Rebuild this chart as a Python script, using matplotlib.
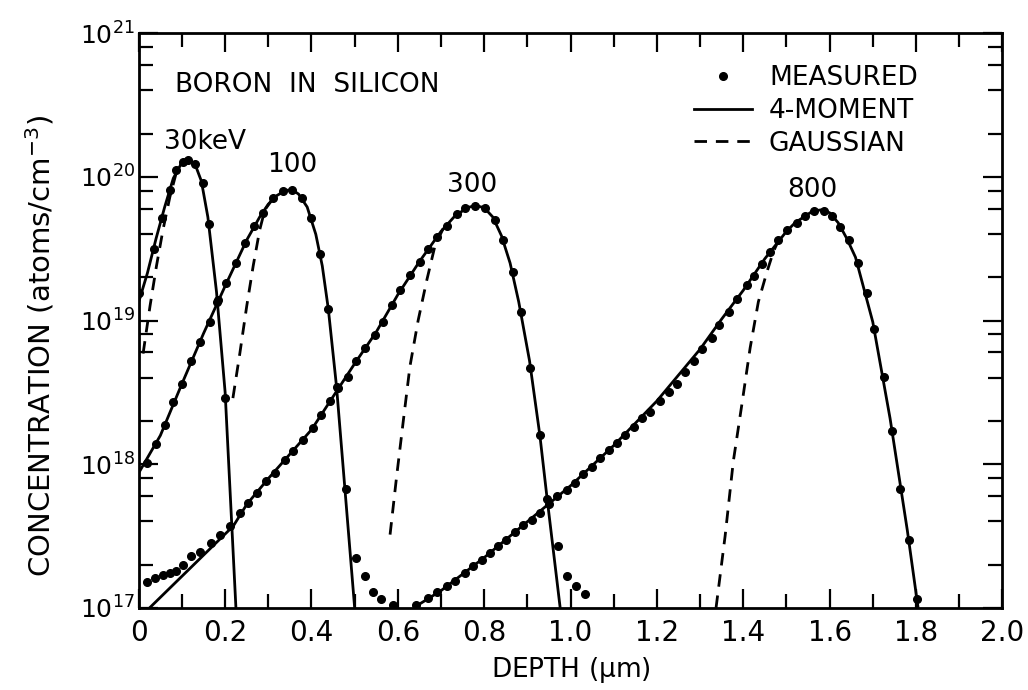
import numpy as np
import matplotlib
matplotlib.use("Agg")
import matplotlib.pyplot as plt
from matplotlib.ticker import FixedLocator, FixedFormatter, NullFormatter
from matplotlib.lines import Line2D

plt.rcParams['font.family'] = ['DejaVu Sans']
plt.rcParams['mathtext.default'] = 'regular'

# ---------------- data (depth in um, concentration as log10 of atoms/cm^3) ----------------
# 30 keV
meas30_x = [0.0, 0.035, 0.053, 0.072, 0.087, 0.103, 0.114, 0.13, 0.149, 0.163, 0.181, 0.2]
meas30_dec = [19.19, 19.50, 19.71, 19.91, 20.05, 20.10, 20.12, 20.09, 19.96, 19.67, 19.13, 18.46]
mom30_x = [0.0, 0.02, 0.04, 0.06, 0.08, 0.1, 0.115, 0.13, 0.145, 0.16, 0.18, 0.2, 0.225]
mom30_dec = [19.13, 19.33, 19.57, 19.79, 19.99, 20.10, 20.12, 20.09, 19.97, 19.72, 19.20, 18.50, 17.0]
gau30_x = [0.01, 0.026, 0.041, 0.056, 0.072, 0.087, 0.1]
gau30_dec = [18.77, 19.10, 19.38, 19.63, 19.86, 20.03, 20.10]

# 100 keV
meas100_x = [0.018, 0.041, 0.06, 0.08, 0.101, 0.122, 0.141, 0.165, 0.184, 0.203, 0.226,
             0.246, 0.267, 0.288, 0.311, 0.334, 0.354, 0.377, 0.40, 0.419, 0.439, 0.458,
             0.481, 0.504, 0.524, 0.543, 0.562, 0.588]
meas100_dec = [18.01, 18.14, 18.27, 18.43, 18.56, 18.72, 18.85, 18.99, 19.14, 19.26, 19.40,
               19.54, 19.66, 19.75, 19.85, 19.90, 19.91, 19.85, 19.71, 19.46, 19.08, 18.54,
               17.83, 17.35, 17.22, 17.11, 17.06, 17.02]
mom100_x = [0.0, 0.05, 0.1, 0.15, 0.2, 0.25, 0.28, 0.30, 0.32, 0.34, 0.355, 0.37, 0.39,
            0.41, 0.425, 0.439, 0.458, 0.50]
mom100_dec = [17.94, 18.20, 18.56, 18.91, 19.24, 19.56, 19.72, 19.81, 19.87, 19.905, 19.91,
              19.88, 19.79, 19.60, 19.38, 19.08, 18.54, 17.0]
gau100_x = [0.218, 0.234, 0.25, 0.265, 0.28, 0.292, 0.311, 0.334]
gau100_dec = [18.46, 18.77, 19.10, 19.38, 19.63, 19.77, 19.85, 19.90]

# 300 keV
meas300_x = [0.018, 0.037, 0.056, 0.072, 0.087, 0.103, 0.122, 0.141, 0.168, 0.188, 0.211,
             0.234, 0.253, 0.273, 0.294, 0.315, 0.338, 0.358, 0.381, 0.404, 0.423, 0.443,
             0.462, 0.485, 0.504, 0.524, 0.547, 0.566, 0.586, 0.605, 0.628, 0.651, 0.670,
             0.69, 0.713, 0.736, 0.755, 0.779, 0.802, 0.825, 0.844, 0.866, 0.885, 0.905,
             0.929, 0.945, 0.970, 0.991, 1.013, 1.034]
meas300_dec = [17.18, 17.21, 17.23, 17.24, 17.26, 17.30, 17.36, 17.39, 17.45, 17.51, 17.57,
               17.66, 17.73, 17.80, 17.88, 17.94, 18.03, 18.09, 18.17, 18.25, 18.34, 18.44,
               18.53, 18.61, 18.72, 18.81, 18.90, 18.99, 19.11, 19.21, 19.32, 19.41, 19.50,
               19.58, 19.66, 19.74, 19.785, 19.80, 19.78, 19.70, 19.56, 19.34, 19.06, 18.67,
               18.20, 17.76, 17.43, 17.22, 17.15, 17.10]
mom300_x = [0.025, 0.219, 0.25, 0.3, 0.35, 0.4, 0.45, 0.5, 0.55, 0.6, 0.65, 0.7, 0.73,
            0.76, 0.78, 0.80, 0.82, 0.84, 0.86, 0.88, 0.905, 0.929, 0.945, 0.976]
mom300_dec = [17.0, 17.57, 17.72, 17.90, 18.07, 18.24, 18.47, 18.70, 18.92, 19.18, 19.41,
              19.62, 19.72, 19.785, 19.80, 19.785, 19.72, 19.59, 19.40, 19.13, 18.72, 18.20,
              17.78, 17.0]
gau300_x = [0.582, 0.597, 0.613, 0.628, 0.647, 0.667, 0.686, 0.705]
gau300_dec = [17.51, 17.91, 18.31, 18.68, 19.0, 19.28, 19.52, 19.64]

# 800 keV
meas800_x = [0.643, 0.670, 0.69, 0.713, 0.732, 0.755, 0.775, 0.794, 0.813, 0.833, 0.85,
             0.871, 0.891, 0.91, 0.929, 0.949, 0.968, 0.991, 1.01, 1.03, 1.049, 1.068,
             1.088, 1.107, 1.126, 1.146, 1.165, 1.184, 1.207, 1.227, 1.246, 1.265, 1.285,
             1.304, 1.327, 1.343, 1.366, 1.385, 1.408, 1.424, 1.443, 1.462, 1.481, 1.501,
             1.524, 1.543, 1.563, 1.586, 1.605, 1.624, 1.644, 1.665, 1.686, 1.703, 1.725,
             1.744, 1.762, 1.783, 1.802]
meas800_dec = [17.02, 17.07, 17.11, 17.15, 17.19, 17.24, 17.29, 17.33, 17.38, 17.43, 17.47,
               17.53, 17.58, 17.61, 17.66, 17.72, 17.78, 17.82, 17.87, 17.93, 17.98, 18.04,
               18.10, 18.15, 18.20, 18.26, 18.32, 18.36, 18.44, 18.50, 18.56, 18.64, 18.72,
               18.80, 18.88, 18.97, 19.06, 19.15, 19.25, 19.31, 19.39, 19.48, 19.56, 19.63,
               19.68, 19.73, 19.76, 19.76, 19.73, 19.65, 19.56, 19.40, 19.19, 18.94, 18.61,
               18.23, 17.83, 17.47, 17.06]
mom800_x = [0.636, 0.7, 0.8, 0.9, 1.0, 1.1, 1.2, 1.3, 1.35, 1.4, 1.45, 1.5, 1.52, 1.54,
            1.56, 1.58, 1.60, 1.62, 1.64, 1.66, 1.70, 1.74, 1.78, 1.805]
mom800_dec = [17.0, 17.12, 17.35, 17.60, 17.85, 18.13, 18.44, 18.80, 19.01, 19.21, 19.43,
              19.62, 19.68, 19.72, 19.76, 19.77, 19.75, 19.68, 19.57, 19.44, 18.99, 18.32,
              17.54, 17.0]
gau800_x = [1.337, 1.358, 1.377, 1.397, 1.416, 1.435, 1.455, 1.47, 1.485]
gau800_dec = [17.0, 17.50, 18.02, 18.42, 18.81, 19.13, 19.34, 19.48, 19.58]

energy_labels = ["30keV", "100", "300", "800"]
legend_labels = ["MEASURED", "4-MOMENT", "GAUSSIAN"]
x_ticks = [0, 0.2, 0.4, 0.6, 0.8, 1.0, 1.2, 1.4, 1.6, 1.8, 2.0]
x_tick_labels = ["0", "0.2", "0.4", "0.6", "0.8", "1.0", "1.2", "1.4", "1.6", "1.8", "2.0"]
y_ticks = [1e17, 1e18, 1e19, 1e20, 1e21]
y_tick_labels = ["$10^{17}$", "$10^{18}$", "$10^{19}$", "$10^{20}$", "$10^{21}$"]

# ---------------- figure ----------------
fig = plt.figure(figsize=(10.28, 6.9), dpi=100)
ax = fig.add_axes([0.135, 0.119, 0.840, 0.833])

LW = 2.0
DASH = (0, (4.5, 3.2))
def dec(a):
    return 10 ** np.asarray(a, dtype=float)

for mx, my in [(mom30_x, mom30_dec), (mom100_x, mom100_dec), (mom300_x, mom300_dec), (mom800_x, mom800_dec)]:
    ax.plot(mx, dec(my), color='black', lw=LW, solid_capstyle='butt', zorder=3)
for gx, gy in [(gau30_x, gau30_dec), (gau100_x, gau100_dec), (gau300_x, gau300_dec), (gau800_x, gau800_dec)]:
    ax.plot(gx, dec(gy), color='black', lw=LW, ls=DASH, dash_capstyle='butt', zorder=3)
for px, py in [(meas30_x, meas30_dec), (meas100_x, meas100_dec), (meas300_x, meas300_dec), (meas800_x, meas800_dec)]:
    ax.plot(px, dec(py), ls='none', marker='o', ms=5.5, color='black', zorder=4)

ax.set_yscale('log')
ax.set_xlim(0, 2.0)
ax.set_ylim(1e17, 1e21)

ax.xaxis.set_major_locator(FixedLocator(x_ticks))
ax.xaxis.set_major_formatter(FixedFormatter(x_tick_labels))
ax.xaxis.set_minor_locator(FixedLocator(np.arange(0.1, 2.0, 0.2)))
ax.yaxis.set_major_locator(FixedLocator(y_ticks))
ax.yaxis.set_major_formatter(FixedFormatter(y_tick_labels))
ax.yaxis.set_minor_locator(FixedLocator([m * 10.0 ** e for e in range(17, 21) for m in (2, 4, 6, 8)]))
ax.yaxis.set_minor_formatter(NullFormatter())

ax.tick_params(which='both', direction='in', top=True, right=True, width=1.6, color='black')
ax.tick_params(which='major', length=14)
ax.tick_params(which='minor', length=10)
ax.tick_params(axis='x', which='major', labelsize=20, pad=8)
ax.tick_params(axis='y', which='major', labelsize=18, pad=3)
for s in ax.spines.values():
    s.set_linewidth(2.0)

ax.set_xlabel("DEPTH ($\\mu$m)", fontsize=19, labelpad=6)
ax.set_ylabel("CONCENTRATION (atoms/cm$^{-3}$)", fontsize=21)
ax.yaxis.set_label_coords(-0.095, 0.455)

# annotations
ax.text(0.083, 10 ** 20.64, "BORON  IN  SILICON", fontsize=19, ha='left', va='center')
ax.text(0.153, 10 ** 20.24, energy_labels[0], fontsize=19, ha='center', va='center')
ax.text(0.355, 10 ** 20.085, energy_labels[1], fontsize=19, ha='center', va='center')
ax.text(0.772, 10 ** 19.946, energy_labels[2], fontsize=19, ha='center', va='center')
ax.text(1.56, 10 ** 19.91, energy_labels[3], fontsize=19, ha='center', va='center')

handles = [Line2D([], [], ls='none', marker='o', ms=5.5, color='black'),
           Line2D([], [], color='black', lw=LW),
           Line2D([], [], color='black', lw=LW, ls=DASH)]
ax.legend(handles, legend_labels, loc='upper right', bbox_to_anchor=(0.902, 0.944),
          frameon=False, fontsize=19, handlelength=2.2, handletextpad=0.65,
          labelspacing=0.25, borderpad=0, borderaxespad=0)

fig.savefig("out.png", dpi=100)
